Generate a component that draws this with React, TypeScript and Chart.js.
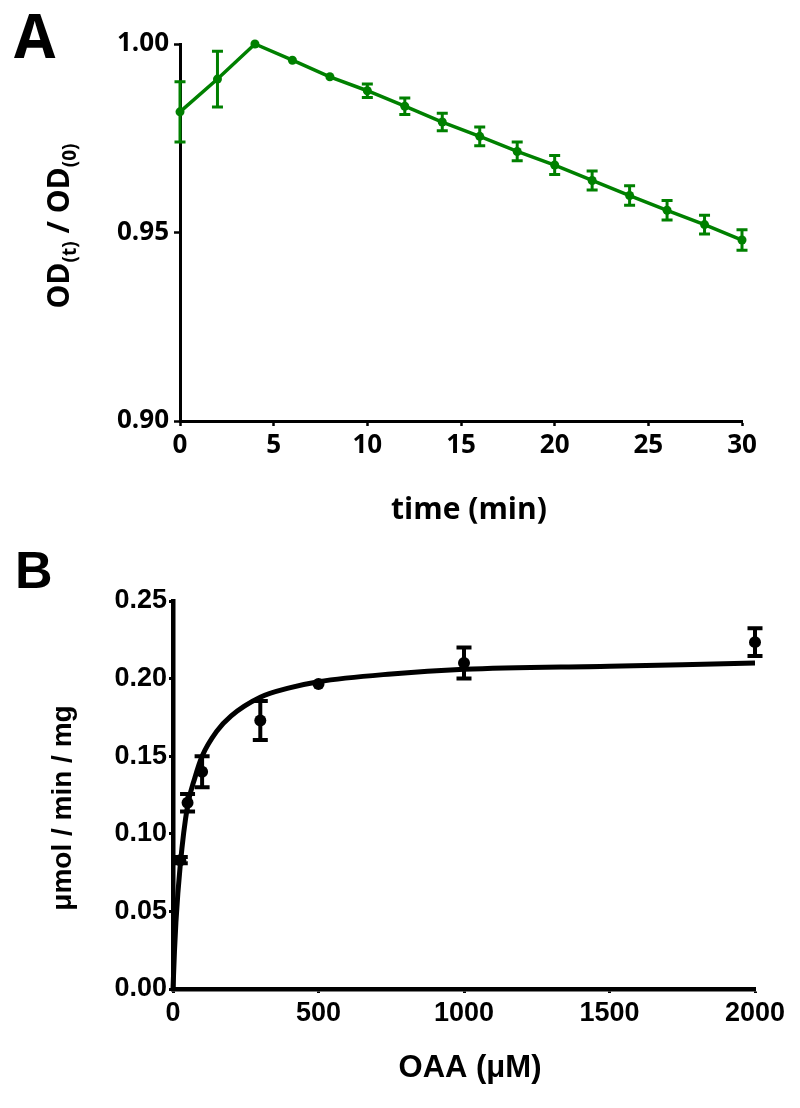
import React, { useEffect, useRef } from 'react';
import { Chart, registerables } from 'chart.js';

Chart.register(...registerables);

// ---------- Panel A data ----------
const timeMin = [0, 2, 4, 6, 8, 10, 12, 14, 16, 18, 20, 22, 24, 26, 28, 30];
const odRatio = [0.982, 0.9907, 1.0, 0.9957, 0.9913, 0.9876, 0.9835, 0.9793, 0.9755, 0.9715, 0.9679, 0.9638, 0.9598, 0.9559, 0.9521, 0.948];
const odError = [0.008, 0.0074, 0, 0, 0, 0.0018, 0.0022, 0.0023, 0.0025, 0.0025, 0.0025, 0.0025, 0.0026, 0.0026, 0.0025, 0.0027];
const timeTicks = [0, 5, 10, 15, 20, 25, 30];
const odTicks = [0.9, 0.95, 1.0];

// ---------- Panel B data ----------
const oaaConc = [25, 50, 100, 300, 500, 1000, 2000];
const rate = [0.083, 0.12, 0.14, 0.173, 0.1965, 0.21, 0.2235];
const rateError = [0.002, 0.0057, 0.01, 0.0125, 0, 0.01, 0.009];
const fitConc = [0, 5, 10, 25, 50, 75, 100, 150, 200, 300, 400, 500, 750, 1000, 1500, 2000];
const fitRate = [0, 0.024, 0.043, 0.08, 0.118, 0.136, 0.15, 0.166, 0.176, 0.188, 0.194, 0.198, 0.203, 0.206, 0.208, 0.21];
const oaaTicks = [0, 500, 1000, 1500, 2000];
const rateTicks = [0, 0.05, 0.1, 0.15, 0.2, 0.25];

const GREEN = '#008000';
const FONT_A = "'Open Sans', 'DejaVu Sans', sans-serif";
const FONT_B = "'Liberation Sans', Arial, sans-serif";

function errorBars(id: string, dsIndex: number, errors: number[], color: string, lw: number, capHalf: number, capW: number) {
  return {
    id,
    afterDatasetsDraw(chart: any) {
      const ctx = chart.ctx;
      const xs = chart.scales.x;
      const ys = chart.scales.y;
      const data = chart.data.datasets[dsIndex].data as { x: number; y: number }[];
      ctx.save();
      ctx.strokeStyle = color;
      ctx.lineCap = 'butt';
      data.forEach((p, i) => {
        const e = errors[i];
        if (!e) return;
        const x = xs.getPixelForValue(p.x);
        const yT = ys.getPixelForValue(p.y + e);
        const yB = ys.getPixelForValue(p.y - e);
        ctx.lineWidth = lw;
        ctx.beginPath();
        ctx.moveTo(x, yT);
        ctx.lineTo(x, yB);
        ctx.stroke();
        ctx.lineWidth = capW;
        ctx.beginPath();
        ctx.moveTo(x - capHalf, yT);
        ctx.lineTo(x + capHalf, yT);
        ctx.moveTo(x - capHalf, yB);
        ctx.lineTo(x + capHalf, yB);
        ctx.stroke();
      });
      ctx.restore();
    },
  };
}

const textsA = {
  id: 'textsA',
  afterDraw(chart: any) {
    const ctx = chart.ctx;
    ctx.save();
    ctx.fillStyle = '#000';
    ctx.textAlign = 'left';
    ctx.textBaseline = 'alphabetic';
    ctx.font = `bold 60px ${FONT_A}`;
    ctx.fillText('A', 14, 58);

    ctx.textAlign = 'center';
    ctx.textBaseline = 'middle';
    ctx.font = `bold 30px ${FONT_A}`;
    ctx.fillText('time (min)', 469, 510);

    // rotated y title with subscripts
    const parts = [
      { t: 'OD', sub: false },
      { t: '(t)', sub: true },
      { t: ' / OD', sub: false },
      { t: '(0)', sub: true },
    ];
    const mainFont = `bold 30px ${FONT_A}`;
    const subFont = `bold 19px ${FONT_A}`;
    let total = 0;
    const widths = parts.map((p) => {
      ctx.font = p.sub ? subFont : mainFont;
      const w = ctx.measureText(p.t).width;
      total += w;
      return w;
    });
    ctx.translate(69, 226);
    ctx.rotate(-Math.PI / 2);
    ctx.textAlign = 'left';
    ctx.textBaseline = 'alphabetic';
    let x = -total / 2;
    parts.forEach((p, i) => {
      ctx.font = p.sub ? subFont : mainFont;
      ctx.fillText(p.t, x, p.sub ? 7 : 0);
      x += widths[i];
    });
    ctx.restore();
  },
};

const textsB = {
  id: 'textsB',
  afterDraw(chart: any) {
    const ctx = chart.ctx;
    ctx.save();
    ctx.fillStyle = '#000';
    ctx.textAlign = 'left';
    ctx.textBaseline = 'alphabetic';
    ctx.font = `bold 52px ${FONT_B}`;
    ctx.fillText('B', 15, 48);

    ctx.textAlign = 'center';
    ctx.textBaseline = 'middle';
    ctx.font = `bold 31px ${FONT_B}`;
    ctx.fillText('OAA (\u03bcM)', 470, 528);

    ctx.translate(71, 268);
    ctx.rotate(-Math.PI / 2);
    ctx.textBaseline = 'alphabetic';
    ctx.font = `bold 28px ${FONT_B}`;
    ctx.fillText('\u03bcmol / min / mg', 0, 0);
    ctx.restore();
  },
};

function makeConfigA(): any {
  return {
    type: 'line',
    data: {
      datasets: [
        {
          data: timeMin.map((t, i) => ({ x: t, y: odRatio[i] })),
          borderColor: GREEN,
          backgroundColor: GREEN,
          borderWidth: 3.5,
          pointRadius: 4.5,
          pointBorderWidth: 0,
          pointBackgroundColor: GREEN,
          tension: 0,
          clip: false,
        },
      ],
    },
    options: {
      responsive: false,
      animation: false,
      events: [],
      layout: { padding: { top: 44, right: 58, left: 0, bottom: 0 } },
      plugins: { legend: { display: false }, tooltip: { enabled: false } },
      scales: {
        x: {
          type: 'linear',
          min: 0,
          max: 30,
          afterBuildTicks: (s: any) => {
            s.ticks = timeTicks.map((v) => ({ value: v }));
          },
          afterFit: (s: any) => {
            s.height = 119;
          },
          ticks: {
            color: '#000',
            font: { family: FONT_A, size: 26, weight: 'bold' },
            padding: 4,
            maxRotation: 0,
            autoSkip: false,
            callback: (v: any) => String(v),
          },
          grid: { display: true, drawOnChartArea: false, drawTicks: true, tickLength: 5, color: '#000', tickColor: '#000', tickWidth: 2.5 },
          border: { display: true, color: '#000', width: 3 },
        },
        y: {
          type: 'linear',
          min: 0.9,
          max: 1.0,
          afterBuildTicks: (s: any) => {
            s.ticks = odTicks.map((v) => ({ value: v }));
          },
          afterFit: (s: any) => {
            s.width = 180;
          },
          ticks: {
            color: '#000',
            font: { family: FONT_A, size: 26, weight: 'bold' },
            padding: 5,
            autoSkip: false,
            callback: (v: any) => Number(v).toFixed(2),
          },
          grid: { display: true, drawOnChartArea: false, drawTicks: true, tickLength: 6, color: '#000', tickColor: '#000', tickWidth: 2.5 },
          border: { display: true, color: '#000', width: 3 },
        },
      },
    },
    plugins: [errorBars('errA', 0, odError, GREEN, 3, 5.5, 3), textsA],
  };
}

function makeConfigB(): any {
  return {
    type: 'line',
    data: {
      datasets: [
        {
          data: fitConc.map((c, i) => ({ x: c, y: fitRate[i] })),
          borderColor: '#000',
          borderWidth: 5,
          pointRadius: 0,
          cubicInterpolationMode: 'monotone',
          fill: false,
          clip: false,
        },
        {
          data: oaaConc.map((c, i) => ({ x: c, y: rate[i] })),
          showLine: false,
          borderColor: '#000',
          backgroundColor: '#000',
          pointRadius: 6,
          pointBorderWidth: 0,
          pointBackgroundColor: '#000',
          clip: false,
        },
      ],
    },
    options: {
      responsive: false,
      animation: false,
      events: [],
      layout: { padding: { top: 61, right: 45, left: 0, bottom: 0 } },
      plugins: { legend: { display: false }, tooltip: { enabled: false } },
      scales: {
        x: {
          type: 'linear',
          min: 0,
          max: 2000,
          afterBuildTicks: (s: any) => {
            s.ticks = oaaTicks.map((v) => ({ value: v }));
          },
          afterFit: (s: any) => {
            s.height = 119;
          },
          ticks: {
            color: '#000',
            font: { family: FONT_B, size: 27, weight: 'bold' },
            padding: 4,
            maxRotation: 0,
            autoSkip: false,
            callback: (v: any) => String(v),
          },
          grid: { display: true, drawOnChartArea: false, drawTicks: true, tickLength: 4, color: '#000', tickColor: '#000', tickWidth: 3 },
          border: { display: true, color: '#000', width: 4.5 },
        },
        y: {
          type: 'linear',
          min: 0,
          max: 0.25,
          afterBuildTicks: (s: any) => {
            s.ticks = rateTicks.map((v) => ({ value: v }));
          },
          afterFit: (s: any) => {
            s.width = 173;
          },
          ticks: {
            color: '#000',
            font: { family: FONT_B, size: 27, weight: 'bold' },
            padding: 2,
            autoSkip: false,
            callback: (v: any) => Number(v).toFixed(2),
          },
          grid: { display: true, drawOnChartArea: false, drawTicks: true, tickLength: 4, color: '#000', tickColor: '#000', tickWidth: 3 },
          border: { display: true, color: '#000', width: 4.5 },
        },
      },
    },
    plugins: [errorBars('errB', 1, rateError, '#000', 4, 7.5, 4), textsB],
  };
}

export default function App() {
  const refA = useRef<HTMLCanvasElement | null>(null);
  const refB = useRef<HTMLCanvasElement | null>(null);

  useEffect(() => {
    const a = new Chart(refA.current as HTMLCanvasElement, makeConfigA());
    const b = new Chart(refB.current as HTMLCanvasElement, makeConfigB());
    return () => {
      a.destroy();
      b.destroy();
    };
  }, []);

  return (
    <div style={{ position: 'absolute', left: 0, top: 0, width: 800, height: 1108, background: '#fff' }}>
      <canvas ref={refA} width={800} height={540} style={{ position: 'absolute', left: 0, top: 0, width: 800, height: 540 }} />
      <canvas ref={refB} width={800} height={568} style={{ position: 'absolute', left: 0, top: 540, width: 800, height: 568 }} />
    </div>
  );
}
